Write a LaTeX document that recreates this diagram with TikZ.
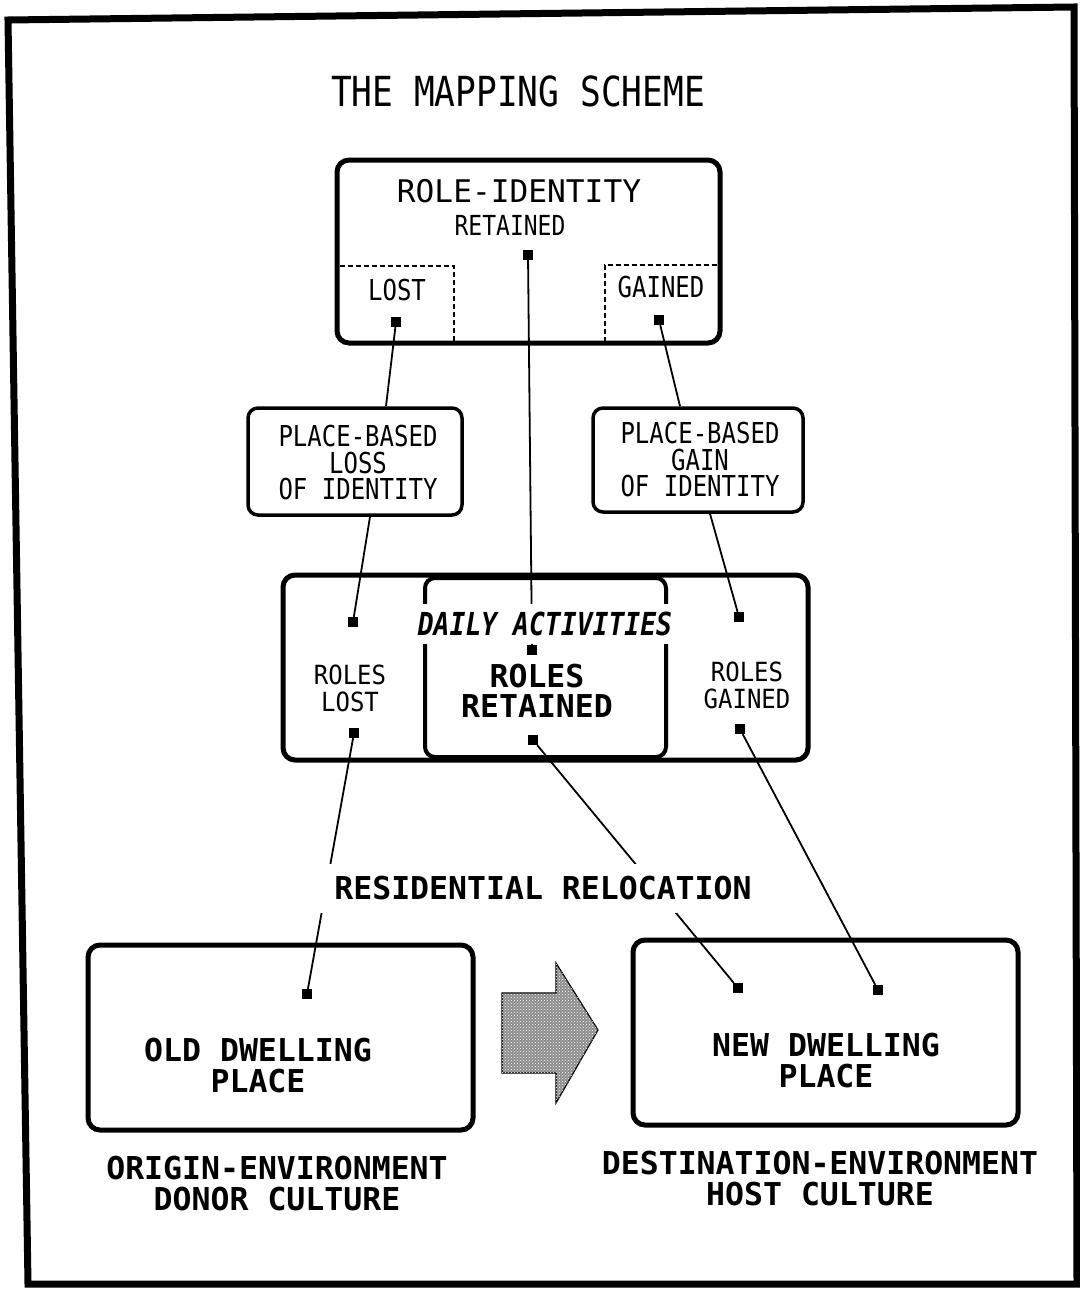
\documentclass[tikz,border=0pt]{standalone}
\usepackage{fontspec}
\setmonofont{DejaVu Sans Mono}
\usetikzlibrary{calc,patterns}
\pgfdeclarelayer{bg}
\pgfsetlayers{bg,main}
\newcommand{\V}[1]{\scalebox{1}[1.2]{#1}}
\newcommand{\Vs}[1]{\scalebox{1}[1.1]{#1}}
\newcommand{\fTitle}{\fontsize{34.5}{38}\selectfont\ttfamily}
\newcommand{\fRI}{\fontsize{31.2}{34}\selectfont\ttfamily}
\newcommand{\fSm}{\fontsize{23}{26}\selectfont\ttfamily}
\newcommand{\fMd}{\fontsize{24}{26.5}\selectfont\ttfamily}
\newcommand{\fMdR}{\fontsize{24}{27}\selectfont\ttfamily}
\newcommand{\fDA}{\fontsize{26.4}{28}\selectfont\ttfamily\bfseries\itshape}
\newcommand{\fBg}{\fontsize{31.5}{30}\selectfont\ttfamily\bfseries}
\newcommand{\fBgL}{\fontsize{31.5}{31}\selectfont\ttfamily\bfseries}
\begin{document}
\begin{tikzpicture}[x=1pt,y=-1pt,
  box/.style={draw, line width=5pt, rounded corners=12pt, inner sep=0pt},
  midbox/.style={draw, line width=3.5pt, rounded corners=10pt, inner sep=0pt},
  dashsub/.style={draw, line width=2pt, dash pattern=on 5pt off 3pt},
  sq/.style={fill=black, minimum size=10pt, inner sep=0pt},
  link/.style={line width=1.8pt},
  txt/.style={inner sep=0pt, align=center},
  cover/.style={fill=white, inner sep=0pt, align=center}]
\useasboundingbox (0,0) rectangle (1079,1290);
% outer frame
\draw[line width=7pt, line join=miter] (8,20) -- (1074,7) -- (1077,1284) -- (28,1284) -- cycle;

% title
\node[txt, font=\fTitle] (title) at (518,91) {\V{THE MAPPING SCHEME}};

% top box
\node[box, minimum width=383pt, minimum height=183pt] (topbox) at (528.5,251.5) {};
\draw[dashsub] (340,266) -- (454,266) -- (454,341);
\draw[dashsub] (717,265) -- (605,265) -- (605,341);
\node[txt, font=\fRI] (ri) at (519,191) {ROLE-IDENTITY};
\node[txt, font=\fSm] (ret) at (510,225) {\V{RETAINED}};
\node[txt, font=\fMd] (lost) at (397,290) {\V{LOST}};
\node[txt, font=\fMd] (gained) at (661,287) {\V{GAINED}};
\node[sq] (sqLost) at (396,322) {};
\node[sq] (sqRet) at (528,255) {};
\node[sq] (sqGained) at (659,320) {};

% place-based boxes
\node[midbox, minimum width=214pt, minimum height=107pt] (lossbox) at (355,461.5) {};
\node[txt, font=\fMd] (losstxt) at (358,463) {\V{PLACE-BASED}\\\V{LOSS}\\\V{OF IDENTITY}};
\node[midbox, minimum width=210pt, minimum height=104pt] (gainbox) at (698,460) {};
\node[txt, font=\fMd] (gaintxt) at (700,460) {\V{PLACE-BASED}\\\V{GAIN}\\\V{OF IDENTITY}};

% daily activities box
\node[box, minimum width=525pt, minimum height=185pt] (dailybox) at (545.5,667.5) {};
\node[draw, line width=4pt, rounded corners=10pt, inner sep=0pt, minimum width=241pt, minimum height=179pt] (retbox) at (545.5,667.5) {};
\node[cover, font=\fDA, minimum height=40pt, inner xsep=8pt] (daily) at (545,624) {\V{DAILY ACTIVITIES}};
\node[txt, font=\fMdR] (rlost) at (350,688) {\Vs{ROLES}\\\Vs{LOST}};
\node[txt, font=\fBg] (rret) at (537,691) {ROLES\\RETAINED};
\node[txt, font=\fMdR] (rgained) at (747,685.5) {\Vs{ROLES}\\\Vs{GAINED}};
\node[sq] (sqRL1) at (353,622) {};
\node[sq] (sqRL2) at (354,733) {};
\node[sq] (sqDA) at (532,650) {};
\node[sq] (sqRR) at (533,740) {};
\node[sq] (sqRG1) at (739,617) {};
\node[sq] (sqRG2) at (740,729) {};

% relocation label
\node[cover, font=\fBg, minimum height=49pt, inner xsep=18pt] (reloc) at (543,888) {RESIDENTIAL RELOCATION};

% dwelling boxes
\node[box, minimum width=385pt, minimum height=185pt] (oldbox) at (280.5,1037.5) {};
\node[txt, font=\fBgL] (oldtxt) at (258,1066) {OLD DWELLING\\PLACE};
\node[box, minimum width=385pt, minimum height=185pt] (newbox) at (825.5,1032.5) {};
\node[txt, font=\fBgL] (newtxt) at (826,1061) {NEW DWELLING\\PLACE};
\node[sq] (sqOld) at (307,994) {};
\node[sq] (sqNew1) at (738,988) {};
\node[sq] (sqNew2) at (878,990) {};

% transition arrow
\filldraw[draw=black, line width=1.2pt, fill=black!45] (502,993) -- (556,993) -- (556,963) -- (598,1030) -- (556,1103) -- (556,1073) -- (502,1073) -- cycle;
\fill[pattern=crosshatch dots, pattern color=white] (502,993) -- (556,993) -- (556,963) -- (598,1030) -- (556,1103) -- (556,1073) -- (502,1073) -- cycle;

% bottom labels
\node[txt, font=\fBgL] (origin) at (277,1183.5) {ORIGIN-ENVIRONMENT\\DONOR CULTURE};
\node[txt, font=\fBgL] (dest) at (820,1179) {DESTINATION-ENVIRONMENT\\HOST CULTURE};

% connectors
\begin{pgfonlayer}{bg}
\draw[link] (sqLost) -- ($(lossbox.north)+(31,0)$);
\draw[link] ($(lossbox.south)+(15,0)$) -- (sqRL1);
\draw[link] (sqGained) -- ($(gainbox.north)+(-18,0)$);
\draw[link] ($(gainbox.south)+(12,0)$) -- (sqRG1);
\draw[link] (sqRet) -- (sqDA);
\draw[link] (sqRL2) -- (sqOld);
\draw[link] (sqRR) -- (sqNew1);
\draw[link] (sqRG2) -- (sqNew2);
\end{pgfonlayer}
\end{tikzpicture}
\end{document}
